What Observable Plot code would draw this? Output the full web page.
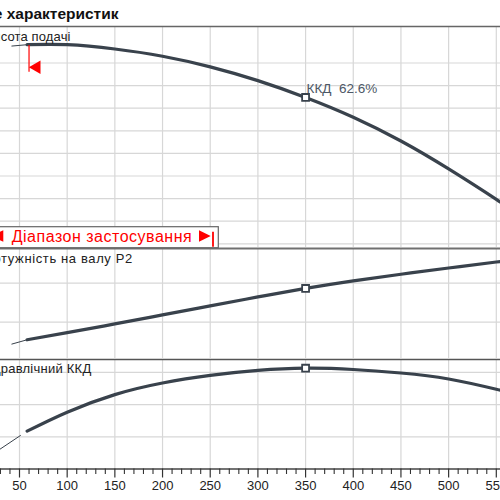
<!DOCTYPE html>
<html><head><meta charset="utf-8">
<script src="https://cdn.jsdelivr.net/npm/d3@7"></script>
<script src="https://cdn.jsdelivr.net/npm/@observablehq/plot@0.6"></script>
<style>
html,body{margin:0;padding:0;overflow:hidden;background:#fff;width:500px;height:500px}
#wrap{position:relative;width:500px;height:500px;overflow:hidden}
#wrap > svg, #wrap > figure{display:block;margin:0}
#overlay{position:absolute;left:0;top:0;pointer-events:none}
</style></head><body><div id="wrap"></div>
<script>
// ---- data ----
const flow  = [58, 100, 150, 200, 250, 300, 350, 400, 450, 500, 550, 560];     // Q, m³/h
const head  = [21.62, 21.62, 21.24, 20.6, 19.66, 18.44, 16.95, 15.2, 13.1, 10.63, 7.93, 7.3]; // H, m
const power = [17.75, 18.66, 19.78, 20.94, 22.1, 23.24, 24.33, 25.3, 26.15, 26.95, 27.72, 27.87]; // P2, kW
const eff   = [23.5, 35.3, 46.2, 53.4, 58.1, 61.2, 62.6, 61.8, 59.6, 55.9, 49.5, 47.9];       // η, %
const headThinFlow = [42, 58],  headThin  = [21.5, 21.62];
const powerThinFlow = [42, 58], powerThin = [17.2, 17.75];
const effThinFlow = [25, 51],   effThin   = [10.5, 20.8];
const xMajor = [50, 100, 150, 200, 250, 300, 350, 400, 450, 500, 550];
const xMinor = d3.range(30, 560, 10).filter(v => v % 50 !== 0);
const headGrid = [4, 6, 8, 10, 12, 14, 16, 18, 20];
const powerGrid = [20, 25];
const effGrid = [20, 40, 60];
const dutyFlow = 350;
const rangeStart = 60;
const rangeMark = [21.55, 19.19];
const rangeArrowH = 19.63;
const labels = {title: "Поле характеристик", head: "Висота подачі", power: "Потужність на валу P2", eff: "Гідравлічний ККД", range: "Діапазон застосування", effMark: "ККД"};

// ---- styling ----
const X_DOMAIN = [30.08, 554.4];
const CURVE = "#39424c", GRID = "#d7d7d7", BORDER = "#666", RED = "#ff0000";
const FONT = "'Liberation Sans', Arial, sans-serif";
const rows = (xs, ys) => xs.map((q, i) => ({q, v: ys[i]}));
const iDuty = flow.indexOf(dutyFlow);

function base(opts) {
  return Object.assign({
    width: 500, marginLeft: 0, marginRight: 0,
    style: {background: "white", fontFamily: FONT, fontSize: "13px", color: "#222", overflow: "visible"},
    x: {domain: X_DOMAIN, axis: null}
  }, opts);
}
const vgrid = () => Plot.ruleX(xMajor, {stroke: GRID, strokeWidth: 1.2});
const hgrid = g => Plot.ruleY(g, {stroke: GRID, strokeWidth: 1.2});
const curve = (xs, ys) => Plot.line(rows(xs, ys), {x: "q", y: "v", stroke: CURVE, strokeWidth: 3.2, curve: "natural", clip: true});
const thin = (xs, ys) => Plot.line(rows(xs, ys), {x: "q", y: "v", stroke: CURVE, strokeWidth: 1, clip: true});
const label = (t, end, dy) => Plot.text([t], {frameAnchor: "top-left", textAnchor: "end", lineAnchor: "bottom", dx: end, dy, fontSize: 13, fill: "#222"});
const dutyDot = ys => Plot.dot([{q: dutyFlow, v: ys[iDuty]}], {x: "q", y: "v", symbol: "square", r: 3.9, fill: "white", stroke: CURVE, strokeWidth: 1.8});

// panel 1: head
const H_DOMAIN = [3.673, 23.23];
const p1 = Plot.plot(base({
  height: 247, marginTop: 26, marginBottom: 0,
  y: {domain: H_DOMAIN, axis: null},
  marks: [
    vgrid(), hgrid(headGrid),
    Plot.ruleY([H_DOMAIN[1]], {stroke: BORDER, strokeWidth: 1.4}),
    thin(headThinFlow, headThin),
    curve(flow, head),
    Plot.ruleX([rangeStart], {y1: rangeMark[0], y2: rangeMark[1], stroke: RED, strokeWidth: 1.2}),
    Plot.dot([{q: rangeStart, v: rangeArrowH}], {x: "q", y: "v", symbol: "triangle", r: 5, rotate: -90, dx: 7.6, fill: RED, stroke: "none"}),
    dutyDot(head),
    Plot.text([{q: dutyFlow, v: head[iDuty]}], {x: "q", y: "v", text: () => `${labels.effMark}\u00a0\u00a0${eff[iDuty].toFixed(1)}%`, textAnchor: "start", lineAnchor: "bottom", dx: 1, dy: -4.7, fontSize: 13.5, fill: "#4d5866"}),
    label(labels.head, 70, 14),
    Plot.text([labels.title], {frameAnchor: "top-left", textAnchor: "end", lineAnchor: "bottom", dx: 118, dy: -7.7, fontSize: 15.5, fontWeight: "bold", fill: "#111"})
  ]
}));

// panel 2: power
const P_DOMAIN = [15.35, 29.45];
const p2 = Plot.plot(base({
  height: 111, marginTop: 1, marginBottom: 0,
  y: {domain: P_DOMAIN, axis: null},
  marks: [
    vgrid(), hgrid(powerGrid),
    Plot.ruleY([P_DOMAIN[1]], {stroke: "#707070", strokeWidth: 1.8}),
    thin(powerThinFlow, powerThin),
    curve(flow, power),
    dutyDot(power),
    label(labels.power, 131.7, 14.5)
  ]
}));

// panel 3: efficiency + x axis
const E_DOMAIN = [0, 68];
const hasAxis = typeof Plot.axisX === "function";
const axisMarks = hasAxis ? [
  Plot.axisX(xMajor, {tickSize: 9, tickPadding: 3, fontSize: 13, tickFormat: d => String(d), label: null, stroke: "#333", strokeWidth: 1.2, fill: "#222"}),
  Plot.axisX(xMinor, {tickSize: 5.5, text: null, label: null, stroke: "#333", strokeWidth: 1.1})
] : [];
const p3 = Plot.plot(base({
  height: 142, marginTop: 1, marginBottom: 31.5,
  x: hasAxis ? {domain: X_DOMAIN} : {domain: X_DOMAIN, ticks: xMajor, tickSize: 9, tickPadding: 3, tickFormat: d => String(d), label: null},
  y: {domain: E_DOMAIN, axis: null},
  marks: [
    vgrid(), hgrid(effGrid),
    Plot.ruleY([E_DOMAIN[1]], {stroke: "#555", strokeWidth: 1.5}),
    Plot.ruleY([0], {stroke: "#444", strokeWidth: 1.5}),
    ...axisMarks,
    thin(effThinFlow, effThin),
    curve(flow, eff),
    dutyDot(eff),
    label(labels.eff, 90.7, 13.3)
  ]
}));

const wrap = document.getElementById("wrap");
wrap.append(p1, p2, p3);

// widen the panel labels so their visible tail spans what the reference shows
function fitLabel(svg, full, visible, target) {
  const el = Array.from(svg.querySelectorAll("text")).find(t => t.textContent === full);
  if (!el) return;
  const tmp = el.cloneNode(false);
  tmp.removeAttribute("text-anchor");
  tmp.textContent = visible;
  el.parentNode.appendChild(tmp);
  const w = tmp.getComputedTextLength();
  tmp.remove();
  const ls = (target - w) / visible.length;
  el.style.letterSpacing = ls + "px";
  const t = el.getAttribute("transform") || "";
  el.setAttribute("transform", t + ` translate(${ls},0)`);
}
fitLabel(p1, labels.head, "сота подачі", 70);
fitLabel(p2, labels.power, "тужність на валу P2", 131.7);
fitLabel(p3, labels.eff, "равлічний ККД", 90.7);

// application range label box (annotation)
const ov = d3.select(wrap).append("svg").attr("id", "overlay").attr("width", 500).attr("height", 500);
ov.append("rect").attr("x", -10).attr("y", 226.7).attr("width", 228.3).attr("height", 21)
  .attr("fill", "white").attr("stroke", "#666").attr("stroke-width", 1.2);
ov.append("path").attr("d", "M-8.5,236 L3.3,230.2 L3.3,241.8 Z").attr("fill", RED);
ov.append("text").attr("x", 11.7).attr("y", 241.5).attr("font-family", FONT).attr("font-size", 16).attr("fill", RED)
  .attr("textLength", 180).attr("lengthAdjust", "spacing").text(labels.range);
ov.append("path").attr("d", "M199,230.2 L210.7,236 L199,241.8 Z").attr("fill", RED);
ov.append("line").attr("x1", 213).attr("x2", 213).attr("y1", 231.7).attr("y2", 246.7).attr("stroke", RED).attr("stroke-width", 1.8);
</script>
</body></html>
